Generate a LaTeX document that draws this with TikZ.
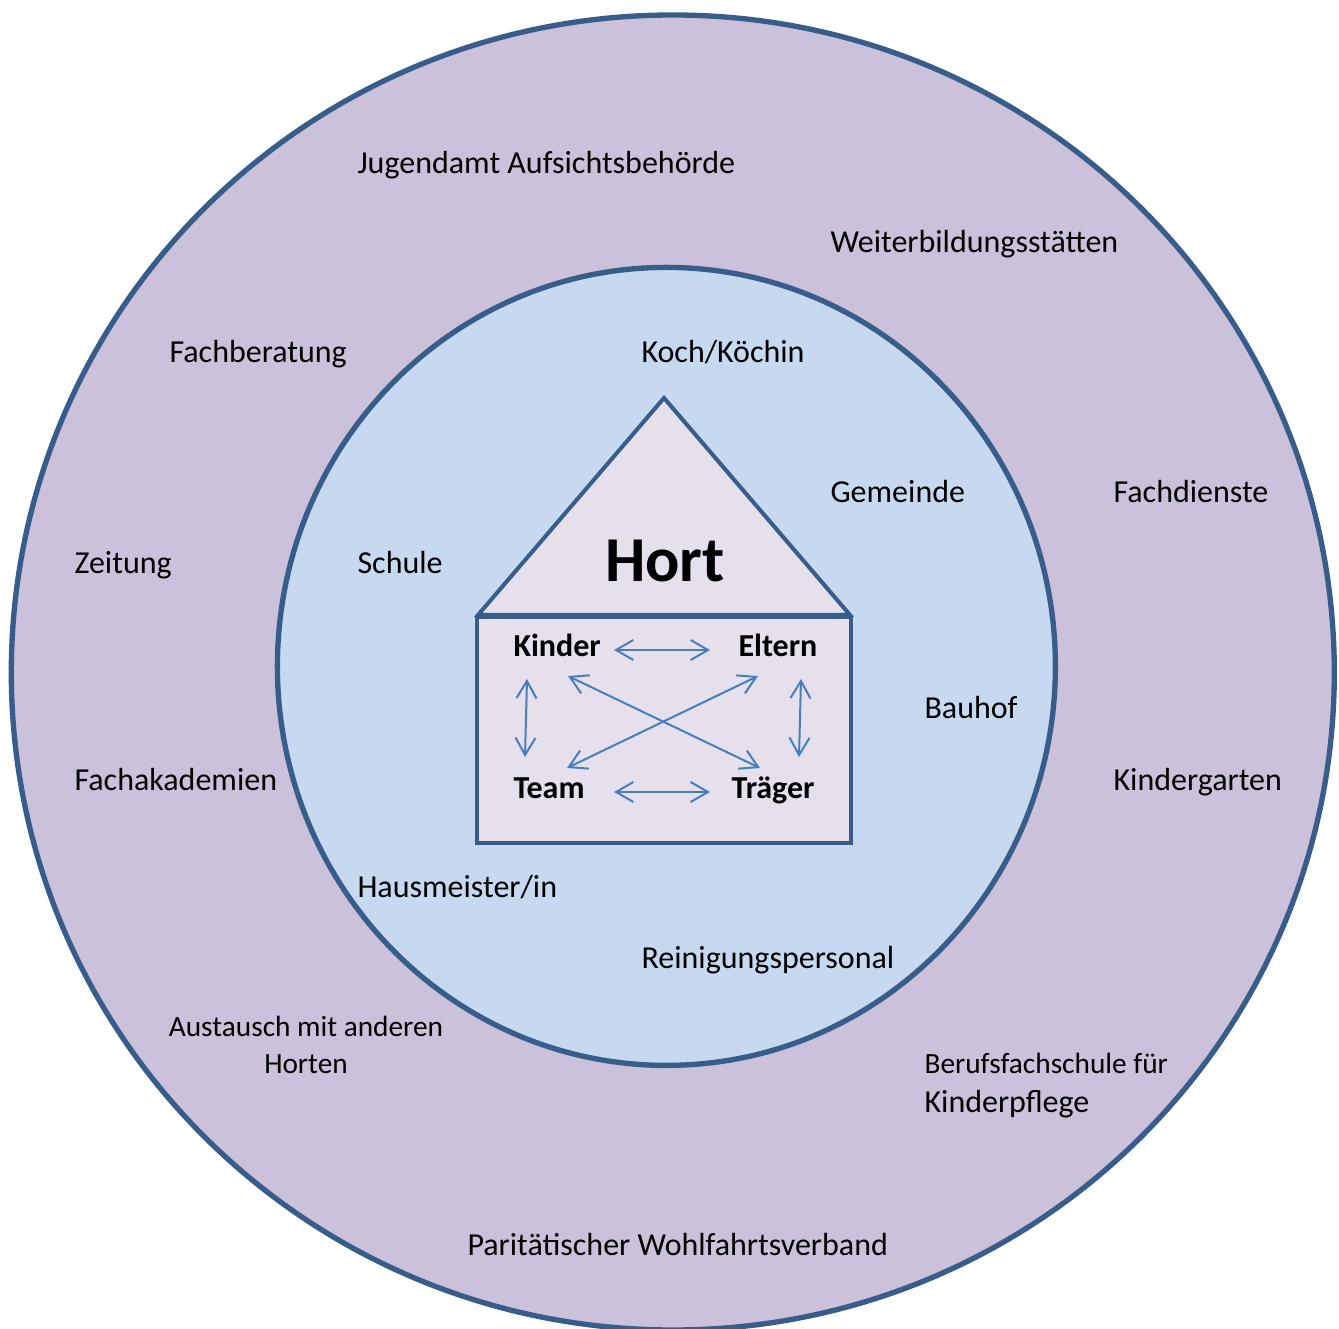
\documentclass[tikz,border=0pt]{standalone}
\usepackage{fontspec}
\setmainfont{Carlito}
\usetikzlibrary{arrows.meta}

\definecolor{aussen}{RGB}{204,193,218}
\definecolor{innen}{RGB}{198,217,241}
\definecolor{hausfarbe}{RGB}{229,224,236}
\definecolor{rand}{RGB}{56,93,138}
\definecolor{pfeilblau}{RGB}{74,126,187}

\tikzset{
	kreis/.style = {draw = rand, line width = 2pt},
	hauslinie/.style = {draw = rand, fill = hausfarbe, line width = 1.5pt},
	partner/.style = {anchor = base west, inner sep = 0pt, font = \fontsize{12}{14}\selectfont},
	zweizeilig/.style = {partner, font = \fontsize{11}{13.8}\selectfont},
	rolle/.style = {anchor = base west, inner sep = 0pt, font = \fontsize{12}{14}\selectfont\bfseries},
	wechsel/.style = {draw = pfeilblau, line width = 0.75pt, <->, >={Straight Barb[length = 6.5pt, width = 7.5pt]}}
}

\begin{document}
\begin{tikzpicture}[x = 0.375pt, y = -0.375pt]
	 \useasboundingbox (0, 0) rectangle (1339, 1329);
	 \fill[white] (0, 0) rectangle (1339, 1329);
	 
	 % Kreise
	 \draw[kreis, fill = aussen] (672.8, 672.5) ellipse [x radius = 661.5, y radius = 657.5];
	 \draw[kreis, fill = innen] (666.4, 666.4) ellipse [x radius = 389, y radius = 399];
	 
	 % Haus
	 \draw[hauslinie] (478, 615) -- (664, 398) -- (850, 615) -- cycle;
	 \draw[hauslinie] (477, 617) rectangle (851, 843);
	 \node[anchor = base, inner sep = 0pt, font = \fontsize{24}{29}\selectfont\bfseries] (hort) at (665, 582) {Hort};
	 
	 \node[rolle] (kinder) at (513, 657) {Kinder};
	 \node[rolle] (eltern) at (738, 657) {Eltern};
	 \node[rolle] (team) at (513, 799) {Team};
	 \node[rolle] (traeger) at (731, 799) {Träger};
	 
	 \draw[wechsel] ([shift = {(101, -7)}] kinder.base west) -- ([shift = {(-28, -7)}] eltern.base west);
	 \draw[wechsel] ([shift = {(101, -7)}] team.base west) -- ([shift = {(-21, -7)}] traeger.base west);
	 \draw[wechsel] ([shift = {(14, 22)}] kinder.base west) -- ([shift = {(12, -42)}] team.base west);
	 \draw[wechsel] ([shift = {(63, 22)}] eltern.base west) -- ([shift = {(68, -42)}] traeger.base west);
	 \draw[wechsel] ([shift = {(55, 19)}] kinder.base west) -- ([shift = {(29, -31)}] traeger.base west);
	 \draw[wechsel] ([shift = {(20, 19)}] eltern.base west) -- ([shift = {(54, -31)}] team.base west);
	 
	 % innerer Kreis
	 \node[partner] (koch) at (641, 363) {Koch/Köchin};
	 \node[partner] (gemeinde) at (830, 503) {Gemeinde};
	 \node[partner] (schule) at (357, 574) {Schule};
	 \node[partner] (bauhof) at (924, 718) {Bauhof};
	 \node[partner] (hausmeister) at (357, 897) {Hausmeister/in};
	 \node[partner] (reinigung) at (641, 968) {Reinigungspersonal};
	 
	 % aeusserer Kreis
	 \node[partner] (jugendamt) at (357, 174) {Jugendamt Aufsichtsbehörde};
	 \node[partner] (weiterbildung) at (830, 253) {Weiterbildungsstätten};
	 \node[partner] (fachberatung) at (169, 363) {Fachberatung};
	 \node[partner] (fachdienste) at (1113, 503) {Fachdienste};
	 \node[partner] (zeitung) at (74, 574) {Zeitung};
	 \node[partner] (fachakademien) at (74, 790) {Fachakademien};
	 \node[partner] (kindergarten) at (1113, 790) {Kindergarten};
	 \node[zweizeilig, anchor = base, align = center] (austausch) at (306, 1073) {Austausch mit anderen\\Horten};
	 \node[zweizeilig, font = \fontsize{11}{14.5}\selectfont, align = left] (berufsfachschule) at (924, 1112) {Berufsfachschule für\\{\fontsize{12}{14.5}\selectfont Kinderpflege}};
	 \node[partner] (paritaet) at (467, 1255) {Paritätischer Wohlfahrtsverband};
\end{tikzpicture}
\end{document}
